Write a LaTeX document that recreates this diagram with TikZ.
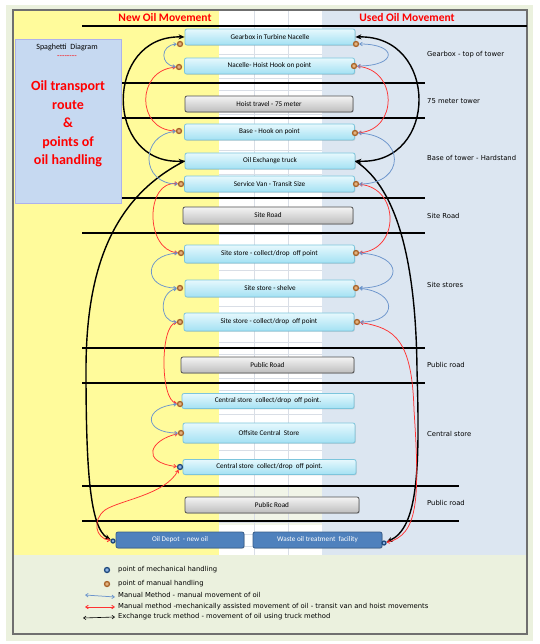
\documentclass[tikz,border=0pt]{standalone}
\usepackage{fontspec}
\setmainfont{Carlito}
\newfontfamily\lblfont{DejaVu Sans}
\usepackage{xcolor}
\usepackage{tikz}
\usetikzlibrary{arrows.meta,shapes,shadows,backgrounds,calc}
\definecolor{colyellow}{HTML}{FFFB9B}
\definecolor{colblue}{HTML}{DCE6F1}
\definecolor{colgreen}{HTML}{EBF1DE}
\definecolor{gridgray}{HTML}{D9DEE6}
\definecolor{framegray}{HTML}{6F6F6F}
\definecolor{boxtop}{HTML}{E6F8FD}
\definecolor{boxbot}{HTML}{A3E1F3}
\definecolor{boxedge}{HTML}{7CC5DC}
\definecolor{roadtop}{HTML}{F4F4F4}
\definecolor{roadbot}{HTML}{BDBDBD}
\definecolor{roadedge}{HTML}{505050}
\definecolor{endfill}{HTML}{4F81BD}
\definecolor{endedge}{HTML}{385D8A}
\definecolor{manedge}{HTML}{A8642A}
\definecolor{manfill}{HTML}{E3B27E}
\definecolor{mechedge}{HTML}{1F497D}
\definecolor{mechfill}{HTML}{8DB3E2}
\definecolor{hoistred}{HTML}{FF3333}
\definecolor{handblue}{HTML}{6C95CC}
\definecolor{headred}{HTML}{FF0000}
\definecolor{spagfill}{HTML}{C6D9F1}
\tikzstyle{stepbox}=[rectangle, rounded corners=2pt, draw=boxedge, top color=boxtop, bottom color=boxbot,% light cyan boxes
line width=0.8pt, minimum width=170pt, minimum height=16pt, inner sep=0pt, font=\fontsize{7.2}{8}\selectfont,
drop shadow={opacity=0.25,shadow xshift=0.8pt,shadow yshift=-0.8pt}]
\tikzstyle{roadbox}=[stepbox, draw=roadedge, top color=roadtop, bottom color=roadbot]
\tikzstyle{endbox}=[stepbox, draw=endedge, top color=endfill, bottom color=endfill, text=white]
\tikzstyle{manpt}=[circle, draw=manedge, fill=manfill, line width=1.3pt, minimum size=5pt, inner sep=0pt]
\tikzstyle{mechpt}=[manpt, draw=mechedge, fill=mechfill]
\tikzstyle{truckarr}=[line width=1.4pt, black, {Stealth[length=6pt,width=5pt]}-{Stealth[length=6pt,width=5pt]}]
\tikzstyle{truckend}=[line width=1.4pt, black, -{Stealth[length=6pt,width=5pt]}]
\tikzstyle{hoistarr}=[line width=0.75pt, hoistred, {Straight Barb[length=2.5pt,width=3.5pt]}-{Straight Barb[length=2.5pt,width=3.5pt]}]
\tikzstyle{handarr}=[line width=0.75pt, handblue, {Straight Barb[length=2.5pt,width=3.5pt]}-{Straight Barb[length=2.5pt,width=3.5pt]}]
\tikzstyle{sepline}=[line width=1.1pt, black]
\tikzstyle{sidelbl}=[anchor=west, inner sep=0pt, font=\lblfont\fontsize{6.8}{8}\selectfont]

\begin{document}
\begin{tikzpicture}[x=1pt,y=-1pt]
\useasboundingbox (0,0) rectangle (539,644);

% background and columns
\fill[colgreen] (6,5) rectangle (533,641);
\fill[colyellow] (13,10) rectangle (219,555);
\fill[white] (219,10) rectangle (322,555);
\fill[colgreen!70] (219,487) rectangle (322,525);
\fill[colblue] (322,10) rectangle (527,555);
\foreach \gy in {30,42,...,550}
  \draw[gridgray, line width=0.4pt] (219,\gy) -- (322,\gy);
\draw[gridgray, line width=0.4pt] (254,10) -- (254,555);
\draw[gridgray, line width=0.4pt] (288,10) -- (288,555);
\draw[framegray, line width=1.2pt] (13,10) rectangle (527,634);

\node[text=headred, font=\bfseries\fontsize{11.5}{12}\selectfont] (newhead) at (165,18) {New Oil Movement};
\node[text=headred, font=\bfseries\fontsize{11.5}{12}\selectfont] (usedhead) at (407,18) {Used Oil Movement};

% layer lines
\draw[sepline] (82,26) -- (527,26);
\draw[sepline] (121,83) -- (425,83);
\draw[sepline] (121,118) -- (425,118);
\draw[sepline] (121,198) -- (425,198);
\draw[sepline] (82,233) -- (425,233);
\draw[sepline] (82,348) -- (425,348);
\draw[sepline] (82,383) -- (425,383);
\draw[sepline] (82,486) -- (459,486);
\draw[sepline] (82,521) -- (459,521);

\node[rectangle, draw=gridgray!80!blue, fill=spagfill, minimum width=106pt, minimum height=164pt] (spag) at (68,121) {};
\node[font=\fontsize{8}{9}\selectfont] (spagtitle) at (67,47) {Spaghetti\ \ Diagram};
\node[text=headred, font=\fontsize{8}{9}\selectfont] (spagdash) at (67,57) {{-}{-}{-}{-}{-}{-}{-}{-}};
\node[text=headred, align=center, font=\bfseries\fontsize{14}{18.5}\selectfont] (spagtext) at (68,124) {Oil transport\\route\\\&\\points of\\oil handling};

\node[stepbox] (gear) at (270,37) {Gearbox in Turbine Nacelle};
\node[stepbox] (nacelle) at (269.5,66) {Nacelle- Hoist Hook on point};
\node[roadbox, minimum width=168pt] (hoist) at (269,104) {Hoist travel - 75 meter};
\node[stepbox] (base) at (269.5,132) {Base - Hook on point};
\node[stepbox] (truck) at (270,161) {Oil Exchange truck};
\node[stepbox] (van) at (269.5,184) {Service Van - Transit Size};
\node[roadbox, minimum height=17pt] (siteroad) at (268,215.5) {Site Road};
\node[stepbox, minimum height=18pt] (siteA) at (269.5,254) {Site store - collect/drop\ \ off point};
\node[stepbox, minimum height=17pt] (shelve) at (270,288.5) {Site store - shelve};
\node[stepbox, minimum height=18pt] (siteB) at (269,322) {Site store - collect/drop\ \ off point};
\node[roadbox, minimum width=173pt] (pubroadA) at (267.5,365) {Public Road};
\node[stepbox, minimum width=172pt, minimum height=15pt] (centralA) at (268,401) {Central store\ \ collect/drop\ \ off point.};
\node[stepbox, minimum width=172pt, minimum height=20pt] (offsite) at (269,433) {Offsite Central\ \ Store};
\node[stepbox, minimum width=173pt, minimum height=15pt] (centralB) at (269.5,467) {Central store\ \ collect/drop\ \ off point.};
\node[roadbox, minimum width=174pt] (pubroadB) at (272,505) {Public Road};
\node[endbox, minimum width=128pt] (depot) at (180,540) {Oil Depot\ \ - new oil};
\node[endbox, minimum width=129pt] (waste) at (317.5,540) {Waste oil treatment\ \ facility};

\node[sidelbl] (lblgear) at (427,55) {Gearbox - top of tower};
\node[sidelbl] (lbltower) at (427,101) {75 meter tower};
\node[sidelbl] (lblbase) at (427,158) {Base of tower - Hardstand};
\node[sidelbl] (lblsiteroad) at (427,216) {Site Road};
\node[sidelbl] (lblstores) at (427,285) {Site stores};
\node[sidelbl] (lblpubA) at (427,365) {Public road};
\node[sidelbl] (lblcentral) at (427,434) {Central store};
\node[sidelbl] (lblpubB) at (427,503) {Public road};

% handling points
\node[manpt] (gearL) at (180,44) {};
\node[manpt] (gearR) at (356,44) {};
\node[manpt] (nacL) at (179,67) {};
\node[manpt] (nacR) at (354,66) {};
\node[manpt] (baseL) at (179,131) {};
\node[manpt] (baseR) at (355,133) {};
\node[manpt] (vanL) at (181,184) {};
\node[manpt] (vanR) at (356,184) {};
\node[manpt] (siteAL) at (181,253) {};
\node[manpt] (siteAR) at (356,253) {};
\node[manpt] (shelveL) at (180,288) {};
\node[manpt] (shelveR) at (356,288) {};
\node[manpt] (siteBL) at (180,322) {};
\node[manpt] (siteBR) at (357,322) {};
\node[manpt] (centralAL) at (180,404) {};
\node[manpt] (offsiteL) at (181,433) {};
\node[mechpt] (centralBL) at (180,467) {};
\node[mechpt, minimum size=4pt] (depotL) at (113,541) {};
\node[mechpt, minimum size=4pt] (wasteR) at (384,543) {};

\draw[truckarr] (gear.west) .. controls (104,35) and (104,165) .. (truck.west);
\draw[truckarr] (gear.east) .. controls (439,35) and (439,165) .. (truck.east);
\draw[truckend] (truck.west) .. controls (112,198) and (86,270) .. (86,370) .. controls (86,470) and (90,528) .. (depotL);
\draw[truckend] (truck.east) .. controls (400,190) and (416,270) .. (417,370) .. controls (420,470) and (418,528) .. (wasteR);

\draw[hoistarr] (nacL) .. controls (136,70) and (136,130) .. (baseL);
\draw[hoistarr] (vanL) .. controls (145,180) and (145,250) .. (siteAL);
\draw[hoistarr] (siteBL) .. controls (160,325) and (160,400) .. (centralAL);
\draw[hoistarr] (offsiteL) .. controls (150,440) and (140,462) .. (centralBL);
\draw[hoistarr] (centralBL) .. controls (165,495) and (120,500) .. (105,510) .. controls (92,520) and (95,538) .. (depotL);
\draw[hoistarr] (nacR) .. controls (398,70) and (398,130) .. (baseR);
\draw[hoistarr] (vanR) .. controls (400,188) and (400,250) .. (siteAR);
\draw[hoistarr] (siteBR) .. controls (395,328) and (412,340) .. (414,410) .. controls (420,500) and (418,535) .. (wasteR);

\draw[handarr] (gearL) .. controls (160,45) and (160,65) .. (nacL);
\draw[handarr] (baseL) .. controls (140,135) and (140,184) .. (vanL);
\draw[handarr] (siteAL) .. controls (143,255) and (143,288) .. (shelveL);
\draw[handarr] (shelveL) .. controls (159,292) and (159,322) .. (siteBL);
\draw[handarr] (centralAL) .. controls (143,407) and (143,433) .. (offsiteL);
\draw[handarr] (gearR) .. controls (398,44) and (398,66) .. (nacR);
\draw[handarr] (baseR) .. controls (406,135) and (406,184) .. (vanR);
\draw[handarr] (siteAR) .. controls (404,255) and (404,288) .. (shelveR);
\draw[handarr] (shelveR) .. controls (398,292) and (398,322) .. (siteBR);

% legend
\node[mechpt] (legmech) at (107,570) {};
\node[sidelbl] (legmechtxt) at (118,570) {point of mechanical handling};
\node[manpt] (legman) at (107,584) {};
\node[sidelbl] (legmantxt) at (118,584) {point of manual handling};
\coordinate (lhandA) at (85,595);
\coordinate (lhandB) at (115,597);
\draw[handarr] (lhandA) -- (lhandB);
\node[sidelbl] (leghandtxt) at (118,595) {Manual Method - manual movement of oil};
\coordinate (lhoistA) at (85,607);
\coordinate (lhoistB) at (115,607);
\draw[hoistarr, line width=0.9pt] (lhoistA) -- (lhoistB);
\node[sidelbl] (leghoisttxt) at (118,607) {Manual method -mechanically assisted movement of oil - transit van and hoist movements};
\coordinate (ltruckA) at (83,618);
\coordinate (ltruckB) at (115,617);
\draw[line width=0.6pt, {Straight Barb[length=2.5pt,width=3.5pt]}-{Straight Barb[length=2.5pt,width=3.5pt]}] (ltruckA) -- (ltruckB);
\node[sidelbl] (legtrucktxt) at (118,617) {Exchange truck method - movement of oil using truck method};

\end{tikzpicture}
\end{document}
